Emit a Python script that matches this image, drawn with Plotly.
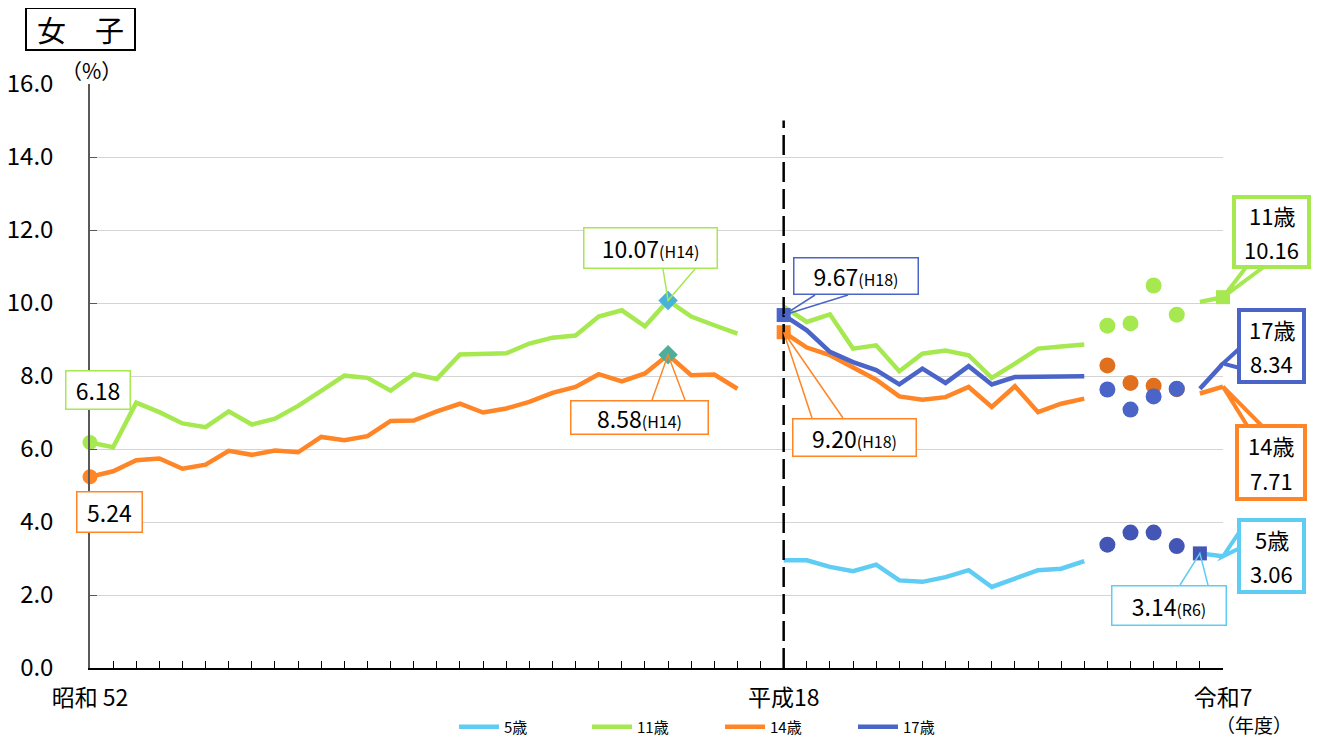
import plotly.graph_objects as go

# ---------------- data ----------------
years_early = list(range(1977, 2006))      # 昭和52 .. 平成17
years_mid = list(range(2006, 2020))        # 平成18 .. 令和元
years_covid = list(range(2020, 2024))      # 令和2 .. 令和5 (dots)
years_recent = [2024, 2025]                # 令和6, 令和7

g11_early = [6.18, 6.05, 7.27, 7.01, 6.70, 6.60, 7.03, 6.67, 6.83, 7.18, 7.59, 8.01, 7.95, 7.60,
             8.05, 7.92, 8.59, 8.60, 8.62, 8.89, 9.05, 9.11, 9.63, 9.80, 9.36, 10.07, 9.63, 9.39, 9.16]
g14_early = [5.24, 5.39, 5.69, 5.74, 5.46, 5.57, 5.95, 5.84, 5.96, 5.91, 6.33, 6.24, 6.35, 6.77,
             6.78, 7.03, 7.24, 7.00, 7.11, 7.29, 7.54, 7.70, 8.05, 7.85, 8.07, 8.58, 8.02, 8.04, 7.65]

g5_mid = [2.95, 2.95, 2.77, 2.65, 2.83, 2.40, 2.36, 2.49, 2.68, 2.22, 2.45, 2.68, 2.72, 2.93]
g11_mid = [9.90, 9.48, 9.69, 8.75, 8.84, 8.13, 8.61, 8.70, 8.57, 7.95, 8.34, 8.75, 8.81, 8.86]
g14_mid = [9.20, 8.78, 8.57, 8.25, 7.90, 7.44, 7.35, 7.42, 7.70, 7.15, 7.72, 7.01, 7.24, 7.38]
g17_mid = [9.67, 9.25, 8.66, 8.38, 8.16, 7.77, 8.20, 7.81, 8.27, 7.77, 7.97, 7.97, 7.96, 7.99]

g5_covid = [3.38, 3.71, 3.71, 3.34]
g11_covid = [9.38, 9.44, 10.48, 9.68]
g14_covid = [8.29, 7.81, 7.73, 7.64]
g17_covid = [7.63, 7.08, 7.44, 7.65]

g5_recent = [3.14, 3.06]
g11_recent = [10.03, 10.16]
g14_recent = [7.52, 7.71]
g17_recent = [7.65, 8.34]

series_names = ["5歳", "11歳", "14歳", "17歳"]
tick_labels = ["昭和 52", "平成18", "令和7"]
tick_years = [1977, 2006, 2025]

C5, C11, C14, C17 = "#5ECCF3", "#A6E84F", "#FF8526", "#4A64C8"
C14DOT, C5DOT = "#E0701E", "#4356B5"
C11DIA, C14DIA = "#4AB2D8", "#4DAE9A"
FONT = "Noto Sans CJK JP"


def pos(y):
    # one empty category slot between 平成17 and 平成18
    return y - 1977 if y <= 2005 else y - 1976


def P(years):
    return [pos(y) for y in years]


def line_xy(parts):
    xs, ys = [], []
    for i, (yrs, vals) in enumerate(parts):
        if i:
            xs.append(None)
            ys.append(None)
        xs += P(yrs)
        ys += vals
    return xs, ys


# page-pixel layout (the page body adds an 8px offset)
OFF = 8
FW, FH = 1319 - OFF, 740 - OFF
L, R, T, B = 90, 1223, 84, 668          # plot area in page pixels
XMAX, YMAX = 49, 16


def px_(px):
    return (px - L) / (R - L)


def py_(py):
    return (B - py) / (B - T)


fig = go.Figure()

lines = [
    ("5歳", C5, [(years_mid, g5_mid), (years_recent, g5_recent)]),
    ("11歳", C11, [(years_early, g11_early), (years_mid, g11_mid), (years_recent, g11_recent)]),
    ("14歳", C14, [(years_early, g14_early), (years_mid, g14_mid), (years_recent, g14_recent)]),
    ("17歳", C17, [(years_mid, g17_mid), (years_recent, g17_recent)]),
]
for name, col, parts in lines:
    xs, ys = line_xy(parts)
    fig.add_trace(go.Scatter(x=xs, y=ys, mode="lines", name=name, connectgaps=False,
                             line=dict(color=col, width=4.5), cliponaxis=False, hoverinfo="skip"))

# covid-period dots
for vals, col in [(g11_covid, C11), (g14_covid, C14DOT), (g5_covid, C5DOT), (g17_covid, C17)]:
    fig.add_trace(go.Scatter(x=P(years_covid), y=vals, mode="markers", showlegend=False,
                             marker=dict(color=col, size=16, symbol="circle"), hoverinfo="skip"))

# highlighted points
hl = [
    (1977, g11_early[0], C11, "circle", 15),
    (1977, g14_early[0], C14, "circle", 15),
    (2002, g11_early[25], C11DIA, "diamond", 15),
    (2002, g14_early[25], C14DIA, "diamond", 15),
    (2006, g17_mid[0], C17, "square", 14),
    (2006, g14_mid[0], C14, "square", 14),
    (2025, g11_recent[1], C11, "square", 14),
    (2024, g5_recent[0], C5DOT, "square", 14),
]
for yr, v, col, sym, sz in hl:
    fig.add_trace(go.Scatter(x=[pos(yr)], y=[v], mode="markers", showlegend=False, cliponaxis=False,
                             marker=dict(color=col, size=sz, symbol=sym), hoverinfo="skip"))

shapes = []
annotations = []

# dashed separator at 平成18
shapes.append(dict(type="line", xref="x", yref="y", x0=pos(2006), x1=pos(2006), y0=0, y1=15,
                   line=dict(color="black", width=2.5, dash="20px,7px")))


def wedge(col, bw, base, apex):
    (bx1, by1), (bx2, by2) = base
    ax, ay = apex[0] / XMAX, apex[1] / YMAX   # data point -> paper fraction
    shapes.append(dict(type="path", xref="paper", yref="paper",
                       path=f"M {px_(bx1)},{py_(by1)} L {ax},{ay} L {px_(bx2)},{py_(by2)}",
                       line=dict(color=col, width=bw), fillcolor="rgba(0,0,0,0)"))


def callout(text, box, col, bw, base, apex, size=23, pad=1):
    x0, x1, y0, y1 = box
    cx, cy = (x0 + x1) / 2, (y0 + y1) / 2
    w = (x1 - x0) - 2 * (bw + pad)
    h = (y1 - y0) - 2 * (bw + pad)
    if base is not None:
        wedge(col, bw, base, apex)
    annotations.append(dict(x=px_(cx), y=py_(cy), xref="paper", yref="paper",
                            xanchor="center", yanchor="middle", text=text, showarrow=False,
                            font=dict(family=FONT, size=size, color="black"),
                            bordercolor=col, borderwidth=bw, borderpad=pad, bgcolor="white",
                            width=w, height=h, align="center", valign="middle"))


def callout2(line1, line2, box, col, bw, base, apex, size=22, gap=34):
    x0, x1, y0, y1 = box
    wedge(col, bw, base, apex)
    shapes.append(dict(type="rect", xref="paper", yref="paper",
                       x0=px_(x0 + bw / 2), x1=px_(x1 - bw / 2), y0=py_(y0 + bw / 2), y1=py_(y1 - bw / 2),
                       line=dict(color=col, width=bw), fillcolor="white"))
    cx, cy = (x0 + x1) / 2, (y0 + y1) / 2
    for t, yy in [(line1, cy - gap / 2), (line2, cy + gap / 2)]:
        annotations.append(dict(x=px_(cx), y=py_(yy), xref="paper", yref="paper",
                                xanchor="center", yanchor="middle", text=t, showarrow=False,
                                font=dict(family=FONT, size=size, color="black")))


small = "<span style='font-size:16px'>{}</span>"
callout(f"{g11_early[0]:.2f}", (65, 131, 370, 410), C11, 1.5, None, None)
callout(f"{g14_early[0]:.2f}", (76, 143, 491, 533), C14, 1.5, None, None)
callout(f"{g11_early[25]:.2f}" + small.format("(H14)"), (583, 718, 227, 269), C11, 1.5,
        ((663, 269), (695, 269)), (pos(2002), g11_early[25]))
callout(f"{g14_early[25]:.2f}" + small.format("(H14)"), (570, 709, 400, 435), C14, 1.5,
        ((652, 400), (685, 400)), (pos(2002), g14_early[25]))
callout(f"{g17_mid[0]:.2f}" + small.format("(H18)"), (793, 919, 257, 295), C17, 1.5,
        ((815, 295), (848, 295)), (pos(2006), g17_mid[0]))
callout(f"{g14_mid[0]:.2f}" + small.format("(H18)"), (792, 917, 418, 457), C14, 1.5,
        ((812, 418), (843, 418)), (pos(2006), g14_mid[0]))
callout(f"{g5_recent[0]:.2f}" + small.format("(R6)"), (1111, 1227, 585, 626), C5, 1.5,
        ((1180, 585), (1208, 585)), (pos(2024), g5_recent[0]))

callout2("11歳", f"{g11_recent[1]:.2f}", (1232, 1311, 195, 269), C11, 4,
         ((1247, 266), (1265, 266)), (pos(2025), g11_recent[1]))
callout2("17歳", f"{g17_recent[1]:.2f}", (1237, 1306, 308, 384), C17, 4,
         ((1240, 348), (1240, 368)), (pos(2025), g17_recent[1]))
callout2("14歳", f"{g14_recent[1]:.2f}", (1235, 1307, 424, 501), C14, 4,
         ((1248, 427), (1263, 427)), (pos(2025), g14_recent[1]))
callout2("5歳", f"{g5_recent[1]:.2f}", (1237, 1306, 518, 594), C5, 4,
         ((1240, 531), (1240, 548)), (pos(2025), g5_recent[1]))

# title box, unit, year label
annotations.append(dict(xref="paper", yref="paper", x=px_(80.5), y=py_(29), xanchor="center",
                        yanchor="middle", text="女　子", showarrow=False,
                        font=dict(family=FONT, size=29, color="black"),
                        bordercolor="black", borderwidth=2, borderpad=1, bgcolor="white",
                        width=105, height=38, align="center", valign="middle"))
annotations.append(dict(xref="paper", yref="paper", x=px_(91), y=py_(70), xanchor="center",
                        yanchor="middle", text="（%）", showarrow=False,
                        font=dict(family=FONT, size=21, color="black")))
annotations.append(dict(xref="paper", yref="paper", x=px_(1254), y=py_(724), xanchor="center",
                        yanchor="middle", text="（年度）", showarrow=False,
                        font=dict(family=FONT, size=19, color="black")))

fig.update_layout(
    width=FW, height=FH,
    margin=dict(l=L - OFF, r=FW - (R - OFF), t=T - OFF, b=FH - (B - OFF), autoexpand=False),
    paper_bgcolor="white", plot_bgcolor="white",
    font=dict(family=FONT, color="black"),
    shapes=shapes, annotations=annotations,
    showlegend=True,
    legend=dict(orientation="h", x=px_(454), xanchor="left", y=py_(727),
                yanchor="middle", font=dict(family=FONT, size=15, color="black"),
                entrywidth=78, entrywidthmode="pixels", itemwidth=40, bgcolor="rgba(0,0,0,0)"),
    xaxis=dict(range=[0, XMAX], showgrid=False, zeroline=False, showline=True, linecolor="black",
               linewidth=1.5, ticks="inside", ticklen=7, tickcolor="black", tickwidth=1,
               tickmode="array", tickvals=[pos(y) for y in tick_years], ticktext=tick_labels,
               tickfont=dict(family=FONT, size=23, color="black"), ticklabelstandoff=9,
               minor=dict(tickmode="array", tickvals=list(range(XMAX + 1)), ticks="inside",
                          ticklen=7, tickcolor="black", tickwidth=1, showgrid=False)),
    yaxis=dict(range=[0, YMAX], dtick=2, tickformat=".1f", showgrid=True, gridcolor="#d4d4d4",
               gridwidth=1, zeroline=False, showline=True, linecolor="#595959", linewidth=1.5,
               ticks="inside", ticklen=7, tickcolor="#595959",
               tickfont=dict(family=FONT, size=24, color="black"), ticklabelstandoff=30),
)

fig.write_html("out.html")
